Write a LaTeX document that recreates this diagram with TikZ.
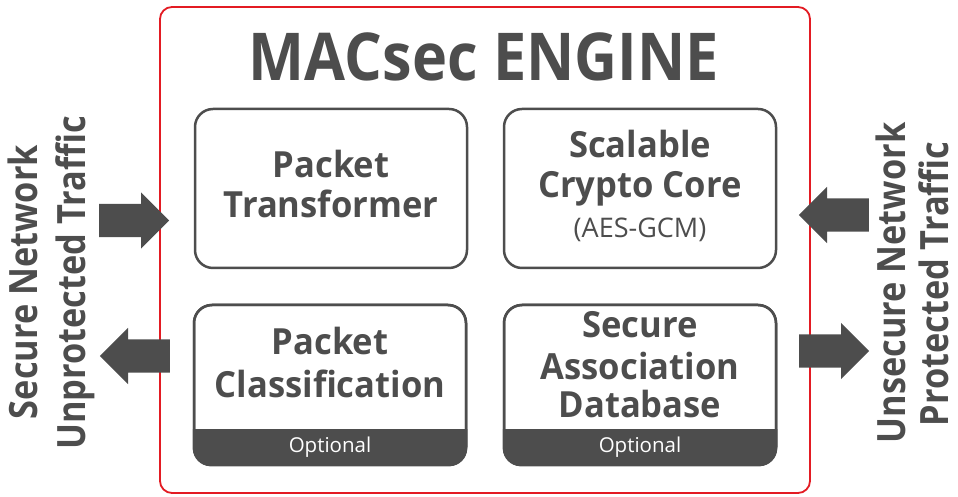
\documentclass[tikz,border=0pt]{standalone}
\usepackage{fontspec}
\setmainfont{Open Sans}
\newfontfamily\hdfont{Open Sans}[FakeStretch=0.9]
\newfontfamily\sdfont{Open Sans}[FakeStretch=0.88]
\newfontfamily\lbfont{Open Sans}[FakeStretch=0.96]
\usetikzlibrary{shapes.arrows,calc}
\definecolor{dk}{HTML}{4D4D4D}
\definecolor{rd}{HTML}{E31B23}
\begin{document}
\begin{tikzpicture}[x=1pt,y=1pt,
  frame/.style={draw=rd, line width=1.8pt, rounded corners=12pt},
  box/.style={draw=dk, line width=2.5pt, rounded corners=18pt, minimum width=272pt, minimum height=159pt, inner sep=0pt},
  lbl/.style={text=dk, font=\lbfont\fontsize{36}{40}\selectfont\bfseries, align=center, inner sep=0pt},
  sub/.style={text=dk, font=\fontsize{27}{30}\selectfont, inner sep=0pt},
  opt/.style={text=white, font=\fontsize{20.5}{24}\selectfont, inner sep=0pt},
  side/.style={text=dk, font=\sdfont\fontsize{39}{44}\selectfont\bfseries, rotate=90, anchor=base, inner sep=0pt},
  barrow/.style={single arrow, fill=dk, draw=none, minimum height=70pt, inner xsep=0pt, inner ysep=16.5pt, single arrow head extend=11.5pt, single arrow tip angle=90, anchor=tail},
  title/.style={text=dk, font=\hdfont\fontsize{66}{70}\selectfont\bfseries, anchor=base, inner sep=0pt}
]
\useasboundingbox (0,0) rectangle (958,497);
\fill[white] (0,0) rectangle (958,497);
% outer frame
\node[frame, minimum width=650pt, minimum height=486pt, inner sep=0pt] (eng) at (485,247) {};
\node[title] (ttl) at (484,416) {MACsec ENGINE};
% boxes
\node[box] (pt) at (331,308.5) {};
\node[box] (cc) at (640,308.5) {};
\node[box, minimum height=160pt] (pc) at (330,112) {};
\node[box, minimum height=160pt] (sa) at (640,112) {};
% footers
\fill[dk] ($(pc.south west)+(0,37)$) -- ($(pc.south west)+(0,18)$) arc[start angle=180,end angle=270,radius=18pt] -- ($(pc.south east)+(-18,0)$) arc[start angle=270,end angle=360,radius=18pt] -- ($(pc.south east)+(0,37)$) -- cycle;
\fill[dk] ($(sa.south west)+(0,37)$) -- ($(sa.south west)+(0,18)$) arc[start angle=180,end angle=270,radius=18pt] -- ($(sa.south east)+(-18,0)$) arc[start angle=270,end angle=360,radius=18pt] -- ($(sa.south east)+(0,37)$) -- cycle;
\node[box] at (pc) [minimum height=160pt] (pcb) {};
\node[box] at (sa) [minimum height=160pt] (sab) {};
% box texts
\node[lbl, anchor=base] (ptt1) at (331,319) {Packet};
\node[lbl, anchor=base] (ptt2) at (331,279) {Transformer};
\node[lbl, anchor=base] (cct1) at (640,339) {Scalable};
\node[lbl, anchor=base] (cct2) at (640,299) {Crypto Core};
\node[sub, anchor=base] (cct3) at (640,259) {(AES-GCM)};
\node[lbl, anchor=base] (pct1) at (330,142) {Packet};
\node[lbl, anchor=base] (pct2) at (330,99) {Classification};
\node[lbl, anchor=base] (sat1) at (640,159) {Secure};
\node[lbl, anchor=base] (sat2) at (640,117) {Association};
\node[lbl, anchor=base] (sat3) at (640,79) {Database};
\node[opt, anchor=base] (po) at (330,44) {Optional};
\node[opt, anchor=base] (so) at (640,44) {Optional};
% side labels
\node[side] (l1) at (37,215) {Secure Network};
\node[side] (l2) at (85,214) {Unprotected Traffic};
\node[side] (r1) at (905,214) {Unsecure Network};
\node[side] (r2) at (948,213) {Protected Traffic};
% arrows
\node[barrow] (a1) at (99,276.5) {};
\node[barrow, shape border rotate=180] (a2) at (170,141) {};
\node[barrow, shape border rotate=180] (a3) at (869,282) {};
\node[barrow] (a4) at (799,146) {};
\end{tikzpicture}
\end{document}
